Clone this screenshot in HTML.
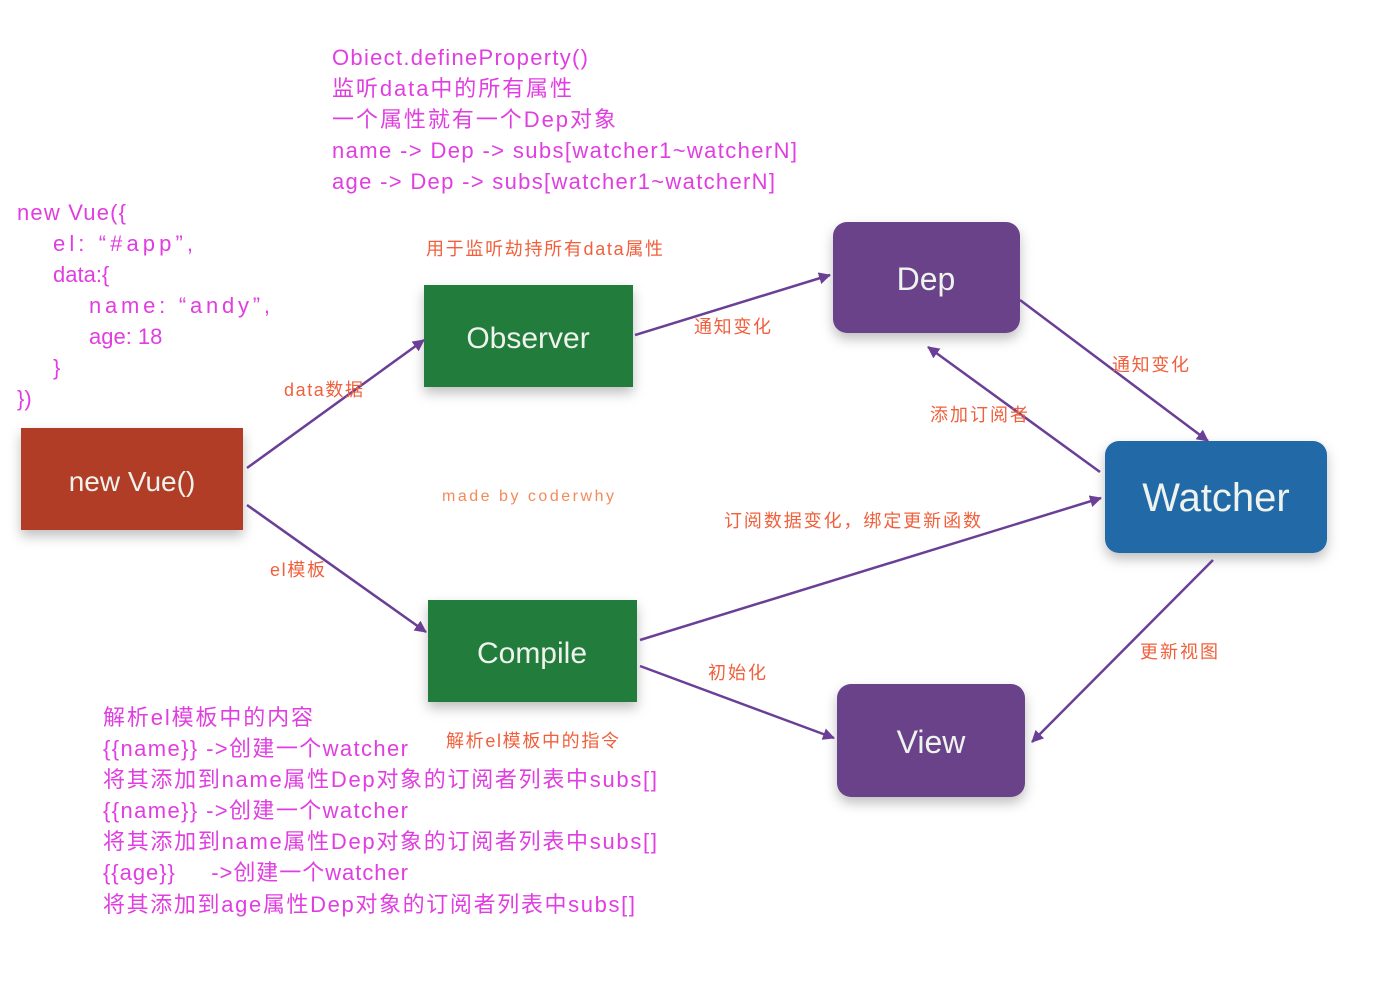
<!DOCTYPE html>
<html><head><meta charset="utf-8"><style>
html,body{margin:0;padding:0;background:#fff;}
svg text{font-family:"Liberation Sans","Noto Sans CJK SC",sans-serif;}
.m{fill:#e03ee0;font-size:22px;}
.o{fill:#f0603c;font-size:18px;}
.w{fill:#eef3ee;font-size:30px;}
</style></head><body>
<svg width="1377" height="1000" viewBox="0 0 1377 1000" xmlns="http://www.w3.org/2000/svg">
<defs>
<marker id="a" markerWidth="12" markerHeight="12" refX="11" refY="6" orient="auto" markerUnits="userSpaceOnUse"><path d="M0,0 L12,6 L0,12 z" fill="#6a3f95"/></marker>
<filter id="s" x="-20%" y="-20%" width="140%" height="150%"><feDropShadow dx="0" dy="6" stdDeviation="6" flood-color="#000" flood-opacity="0.25"/></filter>
</defs>
<rect x="21" y="428" width="222" height="102" fill="#b23e27" filter="url(#s)"/>
<rect x="424" y="285" width="209" height="102" fill="#247b3b" filter="url(#s)"/>
<rect x="428" y="600" width="209" height="102" fill="#247b3b" filter="url(#s)"/>
<rect x="833" y="222" width="187" height="111" rx="14" fill="#6b4389" filter="url(#s)"/>
<rect x="1105" y="441" width="222" height="112" rx="14" fill="#2369a7" filter="url(#s)"/>
<rect x="837" y="684" width="188" height="113" rx="14" fill="#6b4389" filter="url(#s)"/>
<text class="w" x="132" y="491" text-anchor="middle" style="font-size:28px">new Vue()</text>
<text class="w" x="528" y="348" text-anchor="middle" style="font-size:30px">Observer</text>
<text class="w" x="532" y="663" text-anchor="middle" style="font-size:30px">Compile</text>
<text class="w" x="926" y="290" text-anchor="middle" style="font-size:32px">Dep</text>
<text class="w" x="1216" y="511" text-anchor="middle" style="font-size:40px">Watcher</text>
<text class="w" x="931" y="753" text-anchor="middle" style="font-size:32px">View</text>
<g stroke="#6a3f95" stroke-width="2.5" fill="none" marker-end="url(#a)">
<line x1="247" y1="468" x2="424" y2="340"/>
<line x1="247" y1="505" x2="426" y2="632"/>
<line x1="635" y1="335" x2="830" y2="275"/>
<line x1="1020" y1="300" x2="1208" y2="441"/>
<line x1="1100" y1="472" x2="928" y2="347"/>
<line x1="640" y1="640" x2="1101" y2="498"/>
<line x1="640" y1="666" x2="834" y2="738"/>
<line x1="1213" y1="560" x2="1032" y2="742"/>
</g>
<text class="o" x="426" y="255" textLength="237">用于监听劫持所有data属性</text>
<text class="o" x="284" y="396" textLength="79">data数据</text>
<text class="o" x="694" y="333" textLength="77">通知变化</text>
<text class="o" x="1112" y="371" textLength="77">通知变化</text>
<text class="o" x="930" y="421" textLength="98">添加订阅者</text>
<text class="o" x="442" y="501" style="font-size:16px;fill:#f48a5a" textLength="172">made by coderwhy</text>
<text class="o" x="724" y="527" textLength="257">订阅数据变化，绑定更新函数</text>
<text class="o" x="270" y="576" textLength="55">el模板</text>
<text class="o" x="708" y="679" textLength="58">初始化</text>
<text class="o" x="1140" y="658" textLength="78">更新视图</text>
<text class="o" x="446" y="747" textLength="173">解析el模板中的指令</text>
<g class="m">
<text x="332" y="65" textLength="256">Obiect.defineProperty()</text>
<text x="332" y="96" textLength="240">监听data中的所有属性</text>
<text x="332" y="127" textLength="284">一个属性就有一个Dep对象</text>
<text x="332" y="158" textLength="465">name -&gt; Dep -&gt; subs[watcher1~watcherN]</text>
<text x="332" y="189" textLength="443">age -&gt; Dep -&gt; subs[watcher1~watcherN]</text>
<text x="17" y="220" textLength="109">new Vue({</text>
<text x="53" y="251" textLength="140">el: “#app”,</text>
<text x="53" y="282">data:{</text>
<text x="89" y="313" textLength="181">name: “andy”,</text>
<text x="89" y="344">age: 18</text>
<text x="53" y="375">}</text>
<text x="17" y="406">})</text>
<text x="103" y="725" textLength="210">解析el模板中的内容</text>
<text x="103" y="756" textLength="305">{{name}} -&gt;创建一个watcher</text>
<text x="103" y="787" textLength="554">将其添加到name属性Dep对象的订阅者列表中subs[]</text>
<text x="103" y="818" textLength="305">{{name}} -&gt;创建一个watcher</text>
<text x="103" y="849" textLength="554">将其添加到name属性Dep对象的订阅者列表中subs[]</text>
<text x="103" y="880" textLength="305">{{age}}&#160;&#160;&#160;&#160;&#160;-&gt;创建一个watcher</text>
<text x="103" y="912" textLength="532">将其添加到age属性Dep对象的订阅者列表中subs[]</text>
</g>
</svg>
</body></html>
